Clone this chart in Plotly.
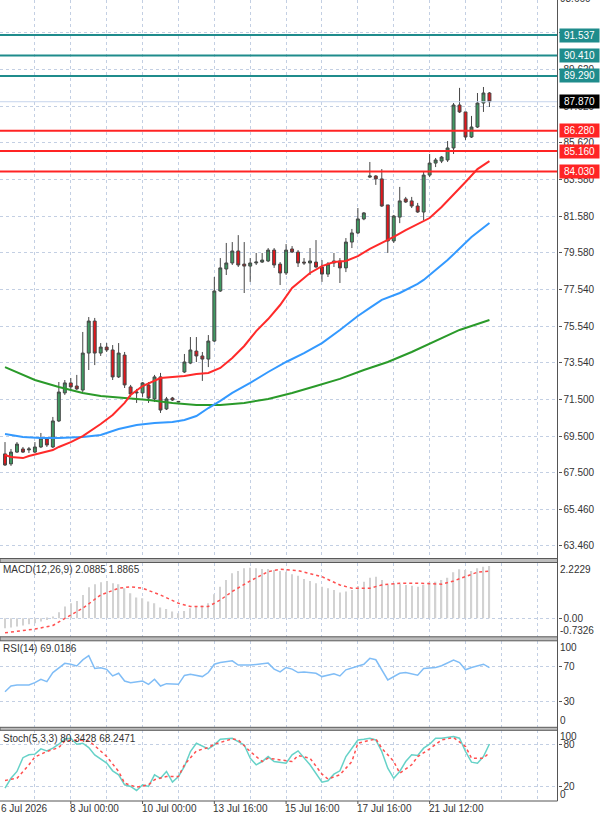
import plotly.graph_objects as go

# ---------------- data ----------------
bar_idx = list(range(82))
opens = [68.52, 67.97, 68.62, 68.79, 68.74, 68.62, 68.90, 69.34, 68.90, 70.33,
         71.87, 72.42, 72.25, 72.03, 74.06, 75.82, 74.06, 74.39, 74.23, 72.75,
         73.95, 72.20, 71.87, 71.87, 72.31, 71.54, 72.75, 70.99, 71.59, 71.37,
         73.02, 73.51, 74.17, 73.90, 73.73, 74.72, 77.47, 78.68, 79.01, 79.67,
         78.95, 78.84, 79.01, 79.06, 79.12, 79.72, 78.95, 78.46, 79.78, 79.61,
         79.06, 79.01, 79.06, 78.79, 78.40, 79.01, 79.12, 78.74, 80.16, 80.66,
         81.43, 83.73, 83.79, 83.63, 82.20, 80.22, 81.53, 82.53, 82.42, 82.14,
         81.81, 83.84, 84.50, 84.61, 84.67, 85.33, 87.69, 87.31, 85.93, 86.48,
         87.80, 88.35]
highs = [69.17, 68.79, 69.17, 68.90, 68.90, 69.17, 69.67, 69.45, 70.55, 72.47,
         72.58, 72.69, 72.86, 75.22, 76.04, 75.99, 74.61, 74.61, 74.50, 74.61,
         74.12, 72.31, 72.09, 72.47, 72.47, 72.86, 72.97, 71.65, 71.65, 71.43,
         74.01, 74.94, 74.94, 74.12, 75.05, 78.24, 79.28, 80.11, 80.16, 80.54,
         80.16, 79.28, 79.56, 79.56, 79.83, 79.83, 79.06, 80.05, 79.94, 79.72,
         79.28, 79.83, 80.27, 79.17, 79.06, 79.56, 79.28, 80.38, 80.88, 82.03,
         81.81, 84.56, 83.84, 84.17, 82.20, 81.65, 83.19, 82.64, 82.64, 82.31,
         84.01, 85.00, 84.78, 84.89, 85.71, 87.80, 88.63, 87.31, 87.09, 88.35,
         88.68, 88.40]
lows = [67.86, 67.86, 68.57, 68.57, 68.57, 68.57, 68.84, 68.90, 68.84, 70.27,
        71.76, 72.03, 72.03, 71.92, 73.13, 73.40, 73.90, 74.12, 72.58, 72.69,
        72.14, 71.65, 71.32, 71.65, 71.32, 71.37, 70.77, 70.93, 71.43, 71.35,
        72.97, 73.45, 73.57, 72.53, 73.29, 74.67, 77.42, 78.35, 78.90, 78.79,
        77.36, 77.97, 78.90, 79.01, 79.06, 78.74, 77.80, 78.35, 79.56, 78.79,
        78.90, 78.35, 78.74, 77.97, 78.24, 78.79, 77.91, 78.51, 79.83, 80.60,
        81.36, 83.68, 83.30, 82.09, 79.56, 80.11, 81.20, 82.31, 82.03, 81.76,
        81.37, 83.73, 84.28, 84.50, 84.56, 85.00, 87.25, 85.77, 85.88, 86.43,
        87.31, 87.58]
closes = [67.91, 68.62, 69.06, 68.62, 68.79, 68.90, 69.39, 69.01, 70.33, 71.92,
          72.42, 72.20, 72.09, 74.06, 75.82, 74.06, 74.39, 74.23, 72.75, 74.06,
          72.31, 71.81, 71.92, 72.42, 71.59, 72.75, 70.93, 71.54, 71.48, 71.40,
          73.57, 74.23, 73.90, 73.73, 74.72, 77.47, 78.74, 79.01, 79.67, 78.90,
          78.84, 79.01, 79.06, 79.17, 79.72, 78.90, 78.46, 79.72, 79.61, 79.01,
          79.01, 79.12, 78.79, 78.40, 78.95, 79.12, 78.74, 80.16, 80.66, 81.43,
          81.76, 83.79, 83.63, 82.14, 80.22, 81.59, 82.42, 82.36, 82.14, 81.81,
          83.84, 84.50, 84.67, 84.83, 85.33, 87.69, 87.31, 85.93, 86.48, 87.80,
          88.35, 87.87]

ma_red_idx = [0, 1, 3, 4, 6, 8, 9, 11, 13, 14, 16, 18, 20, 21, 23, 26, 28, 30, 32, 34,
              36, 38, 40, 42, 44, 46, 48, 49, 51, 53, 55, 57, 59, 61, 63, 65, 67, 69,
              71, 73, 75, 77, 79, 81]
ma_red_val = [68.46, 68.35, 68.29, 68.40, 68.57, 68.73, 68.90, 69.17, 69.50, 69.72,
              70.16, 70.66, 71.32, 71.76, 72.25, 72.69, 72.75, 72.80, 72.91, 72.97,
              73.24, 73.79, 74.45, 75.27, 75.93, 76.70, 77.64, 77.91, 78.46, 78.84,
              79.06, 79.12, 79.39, 79.78, 80.11, 80.44, 80.82, 81.15, 81.48, 82.09,
              82.75, 83.46, 84.17, 84.61]

ma_blue_idx = [0, 3, 6, 9, 13, 16, 19, 22, 25, 28, 30, 32, 34, 36, 38, 41, 44, 47, 50,
               53, 56, 59, 61, 63, 66, 69, 70, 74, 78, 81]
ma_blue_val = [69.61, 69.45, 69.39, 69.39, 69.45, 69.56, 69.89, 70.11, 70.22, 70.27,
               70.38, 70.60, 71.04, 71.43, 71.87, 72.42, 73.02, 73.57, 74.06, 74.61,
               75.33, 76.10, 76.54, 76.98, 77.36, 77.86, 78.08, 79.17, 80.44, 81.21]

ma_green_idx = [0, 3, 5, 9, 13, 16, 20, 24, 28, 32, 36, 40, 44, 48, 52, 56, 60, 64, 68,
                72, 76, 79, 81]
ma_green_val = [73.29, 72.86, 72.58, 72.20, 71.87, 71.70, 71.59, 71.48, 71.32, 71.21,
                71.21, 71.32, 71.54, 71.87, 72.25, 72.64, 73.13, 73.57, 74.12, 74.72,
                75.33, 75.66, 75.88]

macd_hist = [-0.40, -0.37, -0.33, -0.29, -0.24, -0.20, -0.13, -0.07, 0.07, 0.24,
             0.47, 0.60, 0.69, 0.93, 1.24, 1.36, 1.44, 1.49, 1.40, 1.36,
             1.20, 1.00, 0.83, 0.80, 0.67, 0.60, 0.43, 0.37, 0.27, 0.20,
             0.29, 0.40, 0.47, 0.51, 0.60, 0.96, 1.26, 1.53, 1.80, 1.89,
             2.00, 2.02, 2.00, 1.97, 1.97, 1.93, 1.89, 1.86, 1.76, 1.70,
             1.57, 1.49, 1.40, 1.26, 1.20, 1.13, 1.03, 1.07, 1.13, 1.29,
             1.46, 1.62, 1.66, 1.53, 1.33, 1.40, 1.37, 1.33, 1.30, 1.26,
             1.33, 1.44, 1.46, 1.53, 1.62, 1.84, 1.96, 1.93, 1.89, 2.00,
             2.06, 2.0885]
macd_sig_idx = [0, 5, 8, 10, 13, 16, 19, 21, 23, 26, 29, 31, 34, 36, 38, 41, 44, 46, 48,
                49, 53, 56, 58, 61, 63, 66, 69, 73, 75, 77, 79, 81]
macd_sig_val = [-0.58, -0.43, -0.29, 0.0, 0.40, 0.93, 1.20, 1.26, 1.20, 0.93, 0.60, 0.47,
                0.47, 0.73, 1.07, 1.49, 1.86, 1.96, 1.93, 1.90, 1.66, 1.33, 1.20, 1.20,
                1.33, 1.40, 1.40, 1.36, 1.49, 1.66, 1.84, 1.8865]

rsi_idx = [0, 1, 2, 4, 5, 6, 7, 8, 10, 11, 12, 13, 14, 15, 16, 17, 18, 19, 20, 21, 23,
           24, 25, 26, 27, 29, 30, 31, 33, 34, 35, 36, 38, 39, 41, 42, 44, 45, 46, 47,
           48, 49, 50, 52, 53, 55, 56, 57, 59, 60, 61, 62, 64, 66, 67, 69, 70, 72, 73,
           75, 76, 77, 78, 80, 81]
rsi_val = [41.0, 47.6, 48.8, 48.8, 51.6, 55.5, 52.7, 63.3, 74.0, 73.0, 71.0, 78.0, 83.0,
           68.0, 69.0, 67.0, 59.4, 62.5, 53.5, 51.6, 53.5, 49.6, 55.5, 47.6, 50.4, 49.6,
           60.0, 61.4, 58.6, 63.3, 73.0, 75.0, 77.0, 72.0, 72.0, 73.0, 74.3, 67.3, 64.0,
           69.2, 67.3, 63.3, 64.0, 62.5, 58.6, 62.0, 59.4, 66.5, 70.4, 73.0, 79.8, 78.2,
           54.7, 62.5, 63.3, 60.2, 68.0, 69.2, 71.2, 77.8, 75.0, 66.5, 69.2, 73.0, 69.0186]

stk_idx = [0, 1, 2, 3, 4, 5, 6, 7, 8, 9, 10, 11, 12, 13, 14, 15, 17, 18, 19, 20, 21, 22,
           23, 24, 25, 26, 27, 28, 29, 30, 31, 32, 34, 35, 36, 38, 40, 41, 42, 43, 44, 45,
           47, 48, 49, 50, 51, 53, 54, 55, 56, 57, 59, 60, 61, 62, 63, 64, 65, 66, 67, 68,
           69, 70, 71, 72, 73, 75, 76, 77, 78, 79, 80, 81]
stk_val = [18.0, 32.0, 41.6, 61.0, 65.0, 66.0, 73.4, 70.6, 74.4, 80.0, 87.5, 88.4, 80.0,
           81.4, 75.3, 65.0, 53.3, 42.5, 36.9, 22.8, 20.5, 14.8, 22.8, 20.5, 36.9, 32.0,
           41.6, 26.6, 34.5, 48.6, 69.7, 81.4, 73.4, 79.0, 87.0, 88.4, 79.0, 60.3, 51.0,
           55.6, 62.6, 55.6, 53.3, 65.0, 70.6, 60.3, 51.0, 26.6, 28.4, 37.8, 42.5, 62.6,
           86.0, 87.0, 88.4, 86.0, 69.7, 46.2, 32.0, 41.6, 55.6, 65.0, 64.0, 74.4, 80.0,
           88.4, 88.4, 90.8, 88.4, 69.7, 54.7, 53.3, 62.6, 80.3428]
std_idx = [0, 2, 4, 5, 7, 9, 10, 12, 14, 15, 17, 19, 20, 22, 24, 25, 27, 29, 30, 32, 34,
           35, 38, 39, 41, 43, 44, 46, 48, 49, 51, 53, 54, 56, 58, 59, 62, 63, 65, 66, 68,
           69, 71, 73, 75, 77, 78, 80, 81]
std_val = [29.0, 32.0, 51.0, 62.0, 69.7, 75.3, 84.7, 86.0, 84.7, 78.0, 62.6, 41.6, 25.0,
           19.5, 22.8, 30.0, 34.5, 34.5, 51.0, 70.6, 75.3, 80.0, 87.5, 86.0, 69.7, 55.6,
           60.3, 58.0, 55.6, 64.0, 60.3, 37.8, 31.0, 36.9, 55.6, 81.4, 87.5, 74.4, 55.6,
           39.2, 51.0, 62.6, 73.4, 86.0, 89.4, 76.7, 60.3, 60.3, 68.2471]

levels_teal = [91.537, 90.410, 89.290]
levels_red = [86.280, 85.160, 84.030]
last_price = 87.870
price_ticks = [63.46, 65.46, 67.50, 69.50, 71.50, 73.54, 75.54, 77.54, 79.58, 81.58,
               83.58, 85.62, 87.62, 89.62, 91.66]
hidden_ticks = [91.66]          # labels fully covered by the level boxes
top_tick_text = "93.660"
xlab_idx = [11, 23, 35, 47, 59, 71]
xlab_txt = ["8 Jul 00:00", "10 Jul 00:00", "13 Jul 16:00",
            "15 Jul 16:00", "17 Jul 16:00", "21 Jul 12:00"]
first_xlab = "6 Jul 2026"
macd_title = "MACD(12,26,9) 2.0885 1.8865"
rsi_title = "RSI(14) 69.0186"
stoch_title = "Stoch(5,3,3) 80.3428 68.2471"

# ---------------- layout helpers ----------------
W, H = 600, 819
XR_PX = 557.5
FONT = "Liberation Sans"
TXT = "#333333"
GRID = "#c3cfe3"


def pv(px):
    return 1 - px / H


xdom = [0, XR_PX / W]
XRANGE = [-0.837, 92.38]
grid_x = [5 + 6 * k for k in range(-1, 16)]

fig = go.Figure()

# candles
fig.add_trace(go.Candlestick(
    x=bar_idx, open=opens, high=highs, low=lows, close=closes,
    increasing=dict(line=dict(color="#474747", width=1), fillcolor="#3f9a62"),
    decreasing=dict(line=dict(color="#474747", width=1), fillcolor="#e3161b"),
    whiskerwidth=0, xaxis="x", yaxis="y", hoverinfo="skip"))

fig.add_trace(go.Scatter(x=ma_green_idx, y=ma_green_val, mode="lines",
                         line=dict(color="#2a9a2a", width=2), xaxis="x", yaxis="y"))
fig.add_trace(go.Scatter(x=ma_blue_idx, y=ma_blue_val, mode="lines",
                         line=dict(color="#3399ff", width=2), xaxis="x", yaxis="y"))
fig.add_trace(go.Scatter(x=ma_red_idx, y=ma_red_val, mode="lines",
                         line=dict(color="#ff2a2a", width=2), xaxis="x", yaxis="y"))

# MACD
fig.add_trace(go.Bar(x=bar_idx, y=macd_hist, width=0.22,
                     marker=dict(color="#d2d2d2", line=dict(width=0)),
                     xaxis="x2", yaxis="y2"))
fig.add_trace(go.Scatter(x=macd_sig_idx, y=macd_sig_val, mode="lines",
                         line=dict(color="#ff5050", width=1.5, dash="dot"), xaxis="x2", yaxis="y2"))
# RSI
fig.add_trace(go.Scatter(x=rsi_idx, y=rsi_val, mode="lines",
                         line=dict(color="#80bdf6", width=1.5), xaxis="x3", yaxis="y3"))
# Stochastic
fig.add_trace(go.Scatter(x=stk_idx, y=stk_val, mode="lines",
                         line=dict(color="#66d2c8", width=1.5), xaxis="x4", yaxis="y4"))
fig.add_trace(go.Scatter(x=std_idx, y=std_val, mode="lines",
                         line=dict(color="#ff5050", width=1.5, dash="dot"), xaxis="x4", yaxis="y4"))

xcommon = dict(domain=xdom, range=XRANGE, tickvals=grid_x, showticklabels=False, ticks="",
               showgrid=True, gridcolor=GRID, griddash="dot", gridwidth=1,
               zeroline=False, showline=False, fixedrange=True)
ycommon = dict(side="right", ticks="outside", ticklen=3, tickcolor="#555555",
               showgrid=True, gridcolor=GRID, griddash="dot", gridwidth=1,
               zeroline=False, showline=False, fixedrange=True,
               tickfont=dict(family=FONT, size=10, color=TXT), automargin=False)

panels = {"price": (0, 560), "macd": (562.6, 636.6), "rsi": (641, 727), "stoch": (730, 801)}


def dom(name):
    a, b = panels[name]
    return [pv(b), pv(a)]


layout = dict(
    width=W, height=H, margin=dict(l=0, r=0, t=0, b=0),
    paper_bgcolor="white", plot_bgcolor="white", showlegend=False,
    barmode="overlay",
    xaxis=dict(xcommon, anchor="y", rangeslider=dict(visible=False)),
    xaxis2=dict(xcommon, anchor="y2", matches="x"),
    xaxis3=dict(xcommon, anchor="y3", matches="x"),
    xaxis4=dict(xcommon, anchor="y4", matches="x"),
    yaxis=dict(ycommon, anchor="x", domain=dom("price"), range=[62.69, 93.46],
               tickvals=price_ticks,
               ticktext=["" if v in hidden_ticks else f"{v:.3f}" for v in price_ticks]),
    yaxis2=dict(ycommon, anchor="x2", domain=dom("macd"), range=[-0.7326, 2.2229],
                tickvals=[0.0], ticktext=["0.00"]),
    yaxis3=dict(ycommon, anchor="x3", domain=dom("rsi"), range=[0, 100],
                tickvals=[30, 70], ticktext=["30", "70"]),
    yaxis4=dict(ycommon, anchor="x4", domain=dom("stoch"), range=[0, 100],
                tickvals=[20, 80], ticktext=["20", "80"]),
)
fig.update_layout(**layout)

shapes = []
shapes.append(dict(type="line", xref="paper", yref="y", x0=0, x1=XR_PX / W,
                   y0=last_price, y1=last_price, line=dict(color="#c6d4ec", width=1)))
for lv in levels_teal:
    shapes.append(dict(type="line", xref="paper", yref="y", x0=0, x1=XR_PX / W,
                       y0=lv, y1=lv, line=dict(color="#1f8c8c", width=2)))
for lv in levels_red:
    shapes.append(dict(type="line", xref="paper", yref="y", x0=0, x1=XR_PX / W,
                       y0=lv, y1=lv, line=dict(color="#ff2424", width=2)))
for a, b in [(558.5, 562.5), (636.8, 640.8), (727.3, 730.3)]:
    shapes.append(dict(type="rect", xref="paper", yref="paper", x0=0, x1=XR_PX / W,
                       y0=pv(b), y1=pv(a), fillcolor="#bdbdbd",
                       line=dict(color="#5a5a5a", width=1)))
shapes.append(dict(type="line", xref="paper", yref="paper", x0=XR_PX / W, x1=XR_PX / W,
                   y0=pv(801), y1=1, line=dict(color="#555555", width=1)))
shapes.append(dict(type="line", xref="paper", yref="paper", x0=0, x1=XR_PX / W,
                   y0=pv(801), y1=pv(801), line=dict(color="#555555", width=1)))
# small ticks under the time labels
for xi in xlab_idx:
    shapes.append(dict(type="line", xref="x", yref="paper", x0=xi, x1=xi,
                       y0=pv(804), y1=pv(801), line=dict(color="#555555", width=1)))

annotations = []
for lv, col in [(v, "#1f8c8c") for v in levels_teal] + [(v, "#ff2424") for v in levels_red] + [(last_price, "#000000")]:
    annotations.append(dict(xref="paper", yref="y", x=558.5 / W, y=lv, xanchor="left",
                            yanchor="middle", text=f"{lv:.3f}", showarrow=False,
                            bgcolor=col, width=37, height=11, borderpad=1, align="center",
                            font=dict(family=FONT, size=10, color="white")))
annotations.append(dict(xref="paper", yref="paper", x=559 / W, y=1.0, xanchor="left",
                        yanchor="middle", text=top_tick_text, showarrow=False, borderpad=0,
                        yshift=2, font=dict(family=FONT, size=10, color=TXT)))
for yref, val, anc, txt in [("y2", 2.2229, "top", "2.2229"), ("y2", -0.7326, "bottom", "-0.7326"),
                            ("y3", 100, "top", "100"), ("y3", 0, "bottom", "0"),
                            ("y4", 100, "top", "100"), ("y4", 0, "bottom", "0")]:
    annotations.append(dict(xref="paper", yref=yref, x=559 / W, y=val, xanchor="left",
                            yanchor=anc, text=txt, showarrow=False, borderpad=0,
                            font=dict(family=FONT, size=10, color=TXT)))
for px, txt in [(569, macd_title), (648, rsi_title), (738, stoch_title)]:
    annotations.append(dict(xref="paper", yref="paper", x=2 / W, y=pv(px), xanchor="left",
                            yanchor="middle", text=txt, showarrow=False, borderpad=0,
                            font=dict(family=FONT, size=10, color=TXT)))
annotations.append(dict(xref="paper", yref="paper", x=0, y=pv(808.5), xanchor="left",
                        yanchor="middle", text=first_xlab, showarrow=False, borderpad=0,
                        font=dict(family=FONT, size=10, color=TXT)))
for xi, txt in zip(xlab_idx, xlab_txt):
    annotations.append(dict(xref="x", yref="paper", x=xi, y=pv(808.5), xanchor="left",
                            yanchor="middle", text=txt, showarrow=False, xshift=-2,
                            borderpad=0, font=dict(family=FONT, size=10, color=TXT)))

fig.update_layout(shapes=shapes, annotations=annotations)
fig.write_html("out.html")
